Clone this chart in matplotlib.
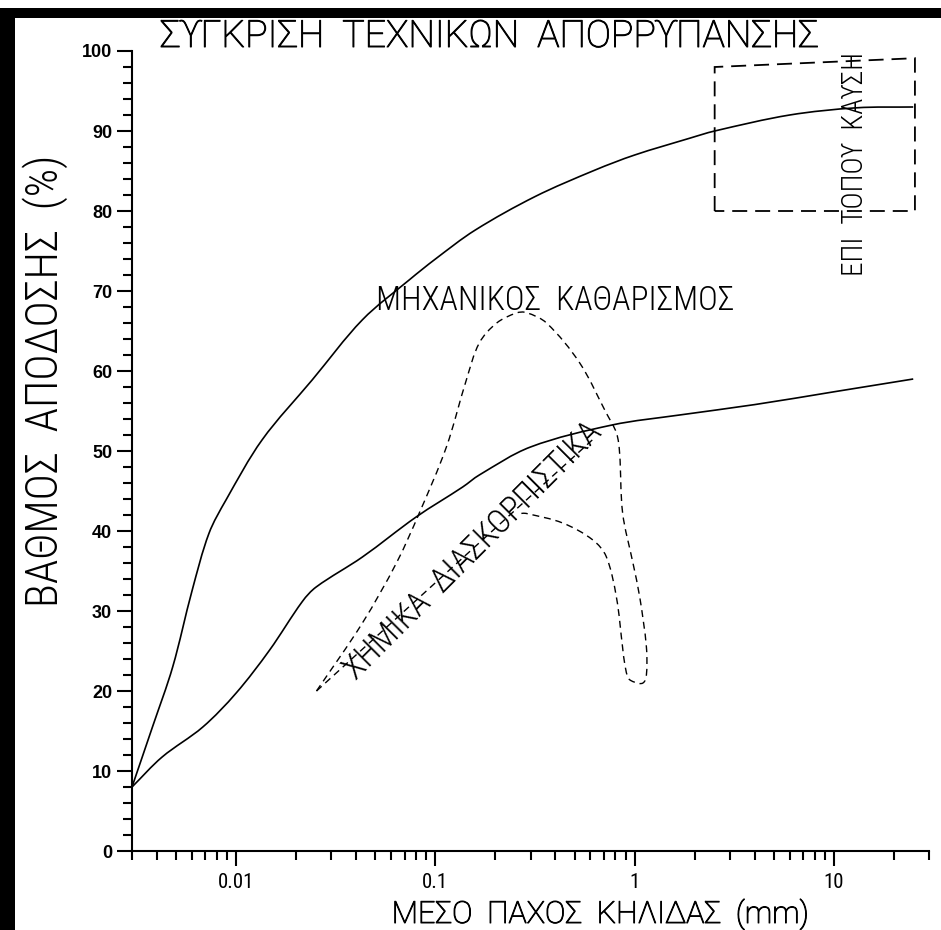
import numpy as np
import matplotlib
matplotlib.use('Agg')
import matplotlib.pyplot as plt
import matplotlib.font_manager as fm
import matplotlib.patheffects as pe
from matplotlib.patches import Rectangle, Polygon, PathPatch
from matplotlib.path import Path
from matplotlib.ticker import MultipleLocator, LogLocator, FuncFormatter, NullFormatter

# efficiency curves (x = mean slick thickness in mm, y = efficiency %)
upper_x = [0.003, 0.0038, 0.0048, 0.006, 0.0073, 0.0089, 0.0135, 0.0241,
           0.043, 0.074, 0.1, 0.158, 0.316, 0.63, 1.0, 1.89, 2.52, 6.0, 13.0, 25.0]
upper_y = [8.0, 15.5, 23.0, 32.5, 39.7, 43.9, 51.4, 58.9,
           66.4, 71.4, 74.0, 77.6, 81.8, 85.1, 87.0, 89.1, 90.0, 92.0, 92.9, 93.0]

lower_x = [0.003, 0.00425, 0.0068, 0.01, 0.0147, 0.0215, 0.0252, 0.043, 0.08,
           0.137, 0.166, 0.3, 0.77, 1.68, 4.0, 10.0, 25.0]
lower_y = [8.0, 11.75, 15.5, 19.75, 25.1, 31.2, 33.0, 36.75, 41.75,
           45.5, 47.0, 50.5, 53.25, 54.5, 55.8, 57.4, 59.0]

# mechanical cleaning envelope (open dashed outline)
mech_x = [0.0253, 0.043, 0.0637, 0.083, 0.1135, 0.143, 0.166, 0.203, 0.255, 0.286,
          0.361, 0.53, 0.72, 0.81, 0.84, 0.87, 0.98, 1.06, 1.145, 1.145, 1.1, 1.0,
          0.93, 0.89, 0.87, 0.81, 0.72, 0.615, 0.435, 0.285, 0.27]
mech_y = [20.0, 28.5, 36.0, 42.25, 50.5, 58.9, 63.5, 66.0, 67.25, 67.3,
          66.0, 61.0, 54.75, 52.25, 49.75, 42.25, 36.0, 31.75, 25.5, 22.0, 21.0, 21.1,
          21.6, 23.5, 25.4, 31.7, 36.8, 38.9, 41.0, 42.2, 42.2]

# chemical dispersants line
chem_x = [0.0253, 0.62]
chem_y = [20.0, 51.5]

# in-situ burning box
burn_x = [2.52, 2.52, 25.5, 25.5]
burn_y = [80.0, 98.0, 99.1, 80.0]

xticks_major = [0.01, 0.1, 1, 10]

available = {f.name for f in fm.fontManager.ttflist}
def pick(*names):
    for n in names:
        if n in available:
            return n
    return 'DejaVu Sans'

narrow = pick('Roboto Condensed', 'Liberation Sans Narrow', 'DejaVu Sans')
wide = pick('Roboto', narrow)
plain = pick('Liberation Sans', 'Arial', 'DejaVu Sans')
stroke = [narrow, 'DejaVu Sans']
stroke_wide = [wide, 'DejaVu Sans']
thicken = [pe.withStroke(linewidth=0.7, foreground='black')]


def smooth_path(xs, ys):
    # bezier through the read points, tangents taken in log-x / linear-y space
    P = np.column_stack([np.log10(xs) * 199.0, np.asarray(ys, float) * 8.0])
    n = len(P)
    d = np.zeros_like(P)
    for i in range(n):
        if i == 0:
            t = P[1] - P[0]
        elif i == n - 1:
            t = P[-1] - P[-2]
        else:
            t = P[i + 1] - P[i - 1]
        d[i] = t / np.hypot(*t)
    verts = [P[0]]
    codes = [Path.MOVETO]
    for i in range(n - 1):
        L = np.hypot(*(P[i + 1] - P[i])) / 3.0
        verts += [P[i] + d[i] * L, P[i + 1] - d[i + 1] * L, P[i + 1]]
        codes += [Path.CURVE4] * 3
    verts = np.array(verts)
    verts[:, 0] = 10 ** (verts[:, 0] / 199.0)
    verts[:, 1] = verts[:, 1] / 8.0
    return Path(verts, codes)


W, H = 941, 930
fig = plt.figure(figsize=(W / 100, H / 100), dpi=100)
fig.patch.set_facecolor('white')

# black frame on top and left edge
fig.add_artist(Rectangle((0, 1 - 18 / H), 1, 10 / H, transform=fig.transFigure,
                         color='black', lw=0))
fig.add_artist(Rectangle((0, 0), 15 / W, 1 - 8 / H, transform=fig.transFigure,
                         color='black', lw=0))

ax = fig.add_axes([132 / W, 79 / H, 797 / W, 800 / H])
ax.set_xscale('log')
ax.set_xlim(0.003, 30)
ax.set_ylim(0, 100)

ax.add_patch(PathPatch(smooth_path(upper_x, upper_y), fill=False, edgecolor='black', lw=1.2))
ax.add_patch(PathPatch(smooth_path(lower_x, lower_y), fill=False, edgecolor='black', lw=1.2))
ax.add_patch(PathPatch(smooth_path(mech_x, mech_y), fill=False, edgecolor='black', lw=1.0,
                       linestyle=(0, (5, 3.5))))
ax.plot(chem_x, chem_y, color='black', lw=1.0, linestyle=(0, (5, 3.5)))
ax.add_patch(Polygon(np.column_stack([burn_x, burn_y]), closed=True, fill=False,
                     edgecolor='black', lw=1.3, linestyle=(0, (8.3, 4.4))))

for s in ['top', 'right']:
    ax.spines[s].set_visible(False)
for s in ['left', 'bottom']:
    ax.spines[s].set_linewidth(1.5)

ax.yaxis.set_major_locator(MultipleLocator(10))
ax.yaxis.set_minor_locator(MultipleLocator(2))
ax.xaxis.set_major_locator(LogLocator(base=10, numticks=20))
ax.xaxis.set_minor_locator(LogLocator(base=10, subs=np.arange(2, 10), numticks=20))
ax.xaxis.set_major_formatter(FuncFormatter(lambda v, p: f'{v:g}' if v in xticks_major else ''))
ax.xaxis.set_minor_formatter(NullFormatter())

ax.tick_params(axis='both', which='major', direction='out', length=10.8, width=1.5, color='black')
ax.tick_params(axis='both', which='minor', direction='out', length=6.8, width=1.5, color='black')
ax.tick_params(axis='y', which='major', pad=3.5)
ax.tick_params(axis='x', which='major', pad=5)
for lab in ax.get_yticklabels():
    lab.set_fontfamily(plain)
    lab.set_fontweight('bold')
    lab.set_fontsize(13)
for lab in ax.get_xticklabels():
    lab.set_fontfamily(stroke)
    lab.set_fontsize(15)

# titles and labels
fig.text(489 / W, 1 - 47 / H, 'ΣϒΓΚΡΙΣΗ  ΤΕΧΝΙΚΩΝ  ΑΠΟΡΡϒΠΑΝΣΗΣ', family=stroke_wide,
         fontsize=27, fontweight='light', ha='center', va='baseline', path_effects=thicken)
fig.text(600 / W, 1 - 923 / H, 'ΜΕΣΟ  ΠΑΧΟΣ  ΚΗΛΙΔΑΣ  (mm)', family=stroke_wide,
         fontsize=22, fontweight='light', ha='center', va='baseline', path_effects=thicken)
fig.text(45 / W, 1 - 381 / H, 'ΒΑΘΜΟΣ  ΑΠΟΔΟΣΗΣ  (%)', family=stroke, rotation=90,
         fontsize=32, fontweight='light', ha='center', va='center')

ax.text(0.0506, 68.75, 'ΜΗΧΑΝΙΚΟΣ  ΚΑΘΑΡΙΣΜΟΣ', family=stroke, fontsize=24,
        fontweight='light', ha='left', va='center')
ax.text(0.155, 37.5, 'ΧΗΜΙΚΑ  ΔΙΑΣΚΟΡΠΙΣΤΙΚΑ', family=stroke, fontsize=24,
        fontweight='light', ha='center', va='center', rotation=45, rotation_mode='anchor')
ax.text(12.8, 85.9, 'ΕΠΙ  ΤΟΠΟϒ  ΚΑϒΣΗ', family=stroke, fontsize=21,
        fontweight='light', ha='center', va='center', rotation=90)

fig.savefig('out.png', dpi=100, facecolor='white')
